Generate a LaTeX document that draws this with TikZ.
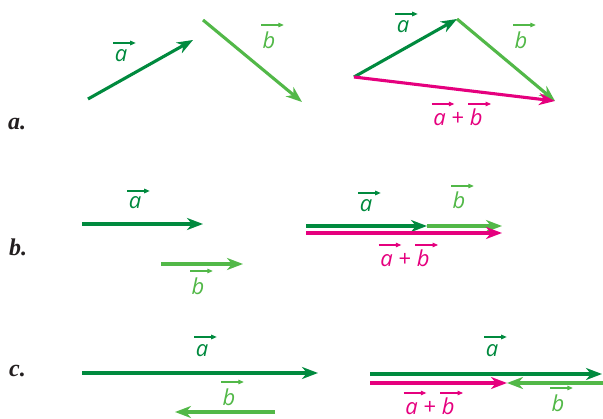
\documentclass[tikz,border=0pt]{standalone}
\usepackage{fontspec}
\setmainfont{Open Sans}
\newfontfamily\lblfont{Liberation Serif}
\usetikzlibrary{arrows.meta}
\definecolor{dkg}{RGB}{0,138,62}
\definecolor{ltg}{RGB}{82,184,72}
\definecolor{mag}{RGB}{229,0,126}
\definecolor{ink}{RGB}{35,31,32}
% #1 colour, #2 letter, #3 height of the small arrow above the baseline
\newcommand{\vecl}[3]{\tikz[baseline=0pt]{\node[inner sep=0pt,outer sep=0pt,anchor=base west,text=#1] (L) at (0pt,0pt) {\itshape #2};
 \draw[overlay,draw=#1,fill=#1,line width=1.1pt,-{Triangle[length=5.5pt,width=4.5pt]}] ([xshift=-1.5pt,yshift=#3]L.base west) -- ([xshift=8.5pt,yshift=#3]L.base east);}}
\begin{document}
\begin{tikzpicture}[x=1pt,y=-1pt,
  vec/.style={line width=3.1pt,-{Stealth[length=16pt,width=12pt,inset=5pt]}},
  lbl/.style={inner sep=0pt,anchor=base,font=\fontsize{22}{26}\selectfont},
  part/.style={inner sep=0pt,anchor=base west,text=ink,font=\lblfont\bfseries\itshape\fontsize{24}{28}\selectfont}]
\useasboundingbox (0,0) rectangle (603,419);
\begin{scope}
\clip (0,0) rectangle (603,419);
% ---------- part a ----------
\node[part] (la) at (8,130) {a.};
\coordinate (a1s) at (88,99);  \coordinate (a1e) at (193,40);
\coordinate (b1s) at (203,20); \coordinate (b1e) at (302,102);
\draw[vec,dkg] (a1s) -- (a1e);
\draw[vec,ltg] (b1s) -- (b1e);
\node[lbl] (ta1) at (121,62) {\vecl{dkg}{a}{19pt}};
\node[lbl] (tb1) at (269,49) {\vecl{ltg}{b}{24pt}};
\coordinate (p) at (354,77); \coordinate (q) at (457,19); \coordinate (r) at (555,101);
\draw[vec,dkg] (p) -- (q);
\draw[vec,ltg] (q) -- (r);
\draw[vec,mag] (p) -- (r);
\node[lbl] (ta2) at (403,33) {\vecl{dkg}{a}{19pt}};
\node[lbl] (tb2) at (521,49) {\vecl{ltg}{b}{24pt}};
\node[lbl,text=mag] (tab1) at (458,126) {\vecl{mag}{a}{22pt} + \vecl{mag}{b}{22pt}};
% ---------- part b ----------
\node[part] (lb) at (9,256) {b.};
\coordinate (ba1s) at (82,224);  \coordinate (ba1e) at (203,224);
\coordinate (bb1s) at (161,264); \coordinate (bb1e) at (243,264);
\draw[vec,dkg] (ba1s) -- (ba1e);
\draw[vec,ltg] (bb1s) -- (bb1e);
\node[lbl] (ta3) at (135,209) {\vecl{dkg}{a}{18pt}};
\node[lbl] (tb3) at (198,295) {\vecl{ltg}{b}{24pt}};
\coordinate (bp) at (306,226); \coordinate (bq) at (427,226); \coordinate (br) at (502,226);
\coordinate (bp2) at (306,233); \coordinate (br2) at (502,233);
\draw[vec,ltg] (bq) -- (br);
\draw[vec,dkg] (bp) -- (bq);
\draw[vec,mag] (bp2) -- (br2);
\node[lbl] (ta4) at (366,212) {\vecl{dkg}{a}{19pt}};
\node[lbl] (tb4) at (459,209) {\vecl{ltg}{b}{23pt}};
\node[lbl,text=mag] (tab2) at (405,267) {\vecl{mag}{a}{22pt} + \vecl{mag}{b}{22pt}};
% ---------- part c ----------
\node[part] (lc) at (9,377) {c.};
\coordinate (ca1s) at (82,373);  \coordinate (ca1e) at (318,373);
\coordinate (cb1s) at (275,412); \coordinate (cb1e) at (175,412);
\draw[vec,dkg] (ca1s) -- (ca1e);
\draw[vec,ltg] (cb1s) -- (cb1e);
\node[lbl] (ta5) at (202,357) {\vecl{dkg}{a}{20pt}};
\node[lbl] (tb5) at (229,406) {\vecl{ltg}{b}{24pt}};
\coordinate (cp) at (370,374); \coordinate (cq) at (602,374);
\coordinate (cp2) at (370,383); \coordinate (cm) at (507,383); \coordinate (cb2s) at (625,383);
\draw[vec,dkg] (cp) -- (cq);
\draw[vec,ltg] (cb2s) -- (cm);
\draw[vec,mag] (cp2) -- (cm);
\node[lbl] (ta6) at (492,357) {\vecl{dkg}{a}{20pt}};
\node[lbl] (tb6) at (558,412) {\vecl{ltg}{b}{24pt}};
\node[lbl,text=mag] (tab3) at (430,415) {\vecl{mag}{a}{22pt} + \vecl{mag}{b}{22pt}};
\end{scope}
\end{tikzpicture}
\end{document}
